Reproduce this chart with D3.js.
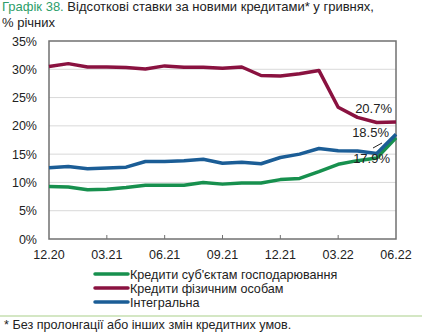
<!DOCTYPE html>
<html><head><meta charset="utf-8">
<script src="https://cdn.jsdelivr.net/npm/d3@7"></script>
<style>body{margin:0;background:#fff}svg{display:block;font-family:"Liberation Sans",Arial,sans-serif}</style>
</head><body><svg id="c" width="431" height="334"></svg>
<script>
const months = ["12.20","01.21","02.21","03.21","04.21","05.21","06.21","07.21","08.21","09.21","10.21","11.21","12.21","01.22","02.22","03.22","04.22","05.22","06.22"];
const tickLabels = ["12.20","03.21","06.21","09.21","12.21","03.22","06.22"];
const yTicks = [0,5,10,15,20,25,30,35];
const business = [9.3,9.2,8.7,8.8,9.1,9.5,9.5,9.5,10.0,9.7,9.9,9.9,10.5,10.7,11.9,13.2,13.85,14.3,17.9];
const households = [30.5,31.0,30.4,30.4,30.3,30.05,30.6,30.35,30.35,30.2,30.4,28.9,28.8,29.2,29.8,23.3,21.5,20.6,20.7];
const integral = [12.6,12.8,12.4,12.55,12.7,13.7,13.7,13.85,14.1,13.4,13.55,13.3,14.4,15.0,16.0,15.6,15.55,15.1,18.5];
const seriesNames = ["Кредити суб'єктам господарювання","Кредити фізичним особам","Інтегральна"];
const colors = ["#17904e","#8a1240","#1b5d96"];

const svg = d3.select("#c");
const L=49,R=396,T=41,B=239;
const x = d3.scalePoint().domain(months).range([L,R]);
const y = d3.scaleLinear().domain([0,35]).range([B,T]);

// title
const t = svg.append("text").attr("x",2).attr("y",11).attr("font-size",13);
t.append("tspan").attr("fill","#2e9e6a").text("Графік 38. ");
t.append("tspan").attr("fill","#222").text("Відсоткові ставки за новими кредитами* у гривнях,");
svg.append("text").attr("x",2).attr("y",26.5).attr("font-size",13).attr("fill","#222").text("% річних");

// grid
svg.append("g").selectAll("line").data(yTicks.filter(d=>d>0&&d<35)).join("line")
  .attr("x1",L).attr("x2",R).attr("y1",d=>y(d)).attr("y2",d=>y(d))
  .attr("stroke","#d9d9d9").attr("stroke-width",1);

// y labels
svg.append("g").selectAll("text").data(yTicks).join("text")
  .attr("x",37).attr("y",d=>y(d)+4.5).attr("text-anchor","end").attr("font-size",12.5).attr("fill","#222")
  .text(d=>d+"%");

// x ticks
svg.append("g").selectAll("line").data(tickLabels.slice(1,-1)).join("line")
  .attr("x1",d=>x(d)).attr("x2",d=>x(d)).attr("y1",B).attr("y2",B-4)
  .attr("stroke","#707070").attr("stroke-width",1);
svg.append("g").selectAll("text").data(tickLabels).join("text")
  .attr("x",d=>x(d)).attr("y",B+20).attr("text-anchor","middle").attr("font-size",12.5).attr("fill","#222")
  .text(d=>d);

// frame
svg.append("rect").attr("x",L).attr("y",T).attr("width",R-L).attr("height",B-T)
  .attr("fill","none").attr("stroke","#707070").attr("stroke-width",1.5);

const line = d3.line().x((d,i)=>x(months[i])).y(d=>y(d));
const data = [business, households, integral];
[1,0,2].forEach(k=>{
  svg.append("path").attr("d",line(data[k])).attr("fill","none")
    .attr("stroke",colors[k]).attr("stroke-width",3.5).attr("stroke-linejoin","round");
});

// value labels
svg.append("text").attr("x",392).attr("y",113).attr("text-anchor","end").attr("font-size",13).attr("fill","#222").text(households[18].toFixed(1)+"%");
svg.append("text").attr("x",389).attr("y",137).attr("text-anchor","end").attr("font-size",13).attr("fill","#222").text(integral[18].toFixed(1)+"%");
svg.append("text").attr("x",390).attr("y",163).attr("text-anchor","end").attr("font-size",13).attr("fill","#222").text(business[18].toFixed(1)+"%");
svg.append("line").attr("x1",373).attr("y1",148).attr("x2",382).attr("y2",143).attr("stroke","#222").attr("stroke-width",1);

// legend
const lg = svg.append("g");
seriesNames.forEach((n,i)=>{
  const yy = 274 + i*14;
  lg.append("line").attr("x1",95).attr("x2",128).attr("y1",yy).attr("y2",yy)
    .attr("stroke",colors[i]).attr("stroke-width",3.5).attr("stroke-linecap","round");
  lg.append("text").attr("x",130).attr("y",yy+4.5).attr("font-size",12.6).attr("fill","#222").text(n);
});

// separator & footnote
svg.append("line").attr("x1",0).attr("x2",422).attr("y1",316).attr("y2",316).attr("stroke","#a9cf8a").attr("stroke-width",1.2);
svg.append("text").attr("x",4).attr("y",329).attr("font-size",12.6).attr("fill","#222").text("* Без пролонгації або інших змін кредитних умов.");
</script></body></html>
